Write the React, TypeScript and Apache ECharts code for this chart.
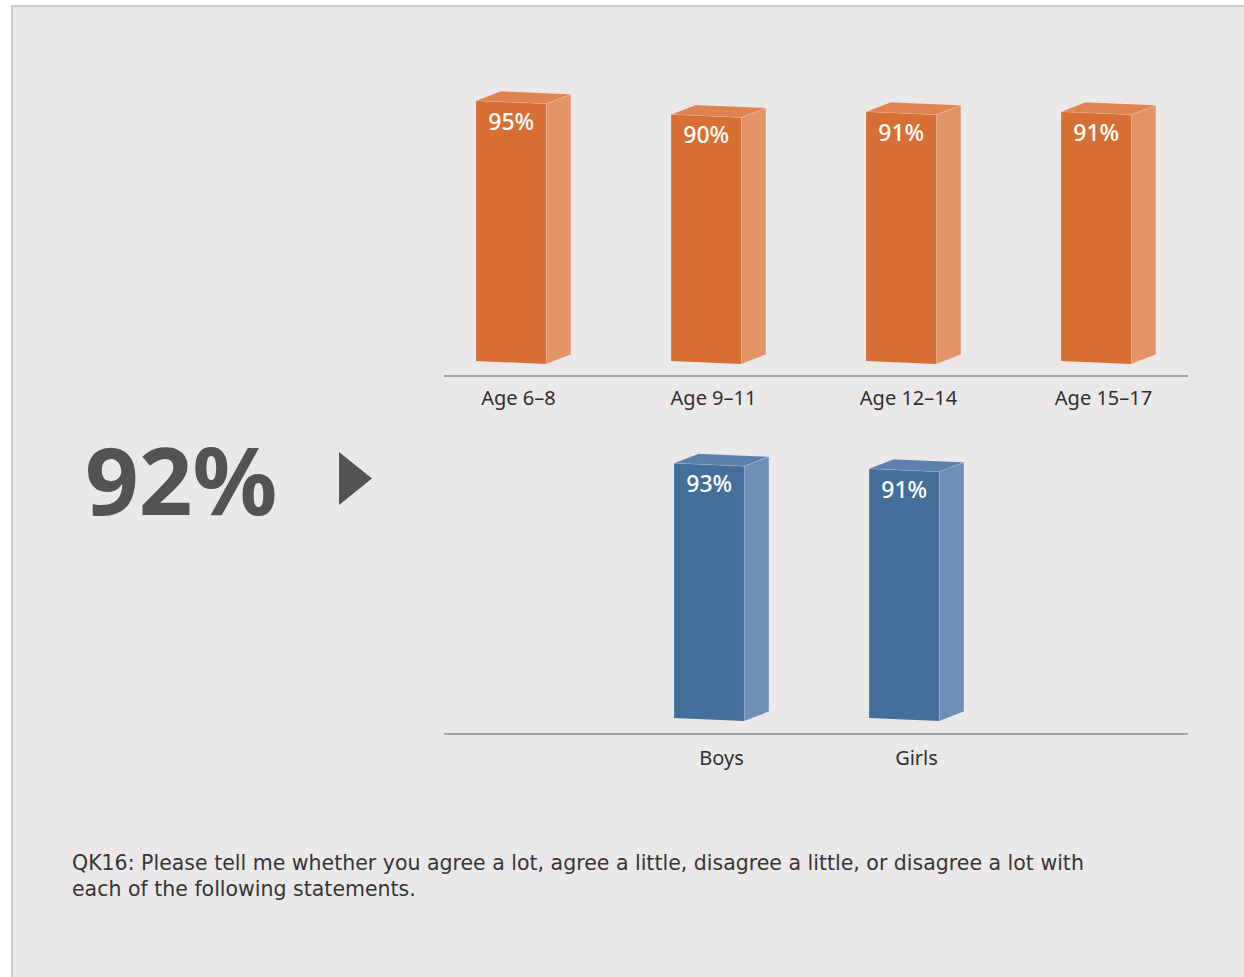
import React, { useEffect, useRef } from "react";
import * as echarts from "echarts";

const ageCategories = ["Age 6–8", "Age 9–11", "Age 12–14", "Age 15–17"];
const ageValues = [95, 90, 91, 91];
const genderCategories = ["Boys", "Girls"];
const genderValues = [93, 91];
const headline = "92%";
const footnoteLines = [
  "QK16: Please tell me whether you agree a lot, agree a little, disagree a little, or disagree a lot with",
  "each of the following statements.",
];

const FONT = '"Noto Sans", "Open Sans", sans-serif';
const WIDE_FONT = '"DejaVu Sans", "Noto Sans", sans-serif';

function makeRenderer(front: string, side: string, top: string) {
  return (params: any, api: any) => {
    const cat = api.value(0);
    const val = api.value(1);
    const pTop = api.coord([cat, val]);
    const pBase = api.coord([cat, 0]);
    const band = api.size([1, 0])[0];
    const fw = band * 0.36;
    const depth = band * 0.126;
    const rise = 9.5;
    const slope = 3;
    const x0 = pTop[0] - (fw + depth) / 2;
    const x1 = x0 + fw;
    const x2 = x1 + depth;
    const yT = pTop[1];
    const yB = pBase[1];
    return {
      type: "group",
      children: [
        {
          type: "polygon",
          shape: { points: [[x0, yT], [x1, yT + slope], [x1, yB + slope], [x0, yB]] },
          style: { fill: front },
        },
        {
          type: "polygon",
          shape: { points: [[x1, yT + slope], [x2, yT + slope - rise], [x2, yB + slope - rise], [x1, yB + slope]] },
          style: { fill: side, stroke: "rgba(255,255,255,0.25)", lineWidth: 0.6 },
        },
        {
          type: "polygon",
          shape: { points: [[x0, yT], [x0 + depth, yT - rise], [x2, yT + slope - rise], [x1, yT + slope]] },
          style: { fill: top, stroke: "rgba(255,255,255,0.3)", lineWidth: 0.6 },
        },
        {
          type: "text",
          x: x0 + fw / 2,
          y: yT + 20,
          style: {
            text: val + "%",
            fill: "#ffffff",
            fontSize: 23,
            fontWeight: 500,
            fontFamily: FONT,
            align: "center",
            verticalAlign: "middle",
          },
        },
      ],
    };
  };
}

export default function App() {
  const ref = useRef<HTMLDivElement>(null);
  useEffect(() => {
    document.body.style.margin = "0";
    const chart = echarts.init(ref.current!, undefined, { renderer: "svg" });
    const axisLabel = (margin: number, padding: number[]) => ({
      color: "#2f2f2f",
      fontSize: 20,
      fontFamily: FONT,
      margin,
      padding,
    });
    chart.setOption({
      animation: false,
      backgroundColor: "#ffffff",
      grid: [
        { left: 426, width: 780, top: 87, height: 274 },
        { left: 624, width: 390, top: 444, height: 274 },
      ],
      xAxis: [
        {
          type: "category",
          gridIndex: 0,
          data: ageCategories,
          axisLine: { show: false },
          axisTick: { show: false },
          axisLabel: axisLabel(26, [0, 10, 0, 0]),
        },
        {
          type: "category",
          gridIndex: 1,
          data: genderCategories,
          axisLine: { show: false },
          axisTick: { show: false },
          axisLabel: axisLabel(29, [0, 0, 0, 0]),
        },
      ],
      yAxis: [
        { type: "value", gridIndex: 0, min: 0, max: 100, show: false },
        { type: "value", gridIndex: 1, min: 0, max: 100, show: false },
      ],
      graphic: [
        {
          type: "rect",
          z: -10,
          shape: { x: 12, y: 6, width: 1240, height: 980 },
          style: { fill: "#ebe8e9", stroke: "#d0cccd", lineWidth: 2 },
        },
        {
          type: "line",
          shape: { x1: 444, y1: 376, x2: 1188, y2: 376 },
          style: { stroke: "#8e8e8e", lineWidth: 1.5 },
        },
        {
          type: "line",
          shape: { x1: 444, y1: 734, x2: 1188, y2: 734 },
          style: { stroke: "#8e8e8e", lineWidth: 1.5 },
        },
        {
          type: "text",
          x: 85,
          y: 479,
          style: {
            text: headline,
            fill: "#555352",
            fontSize: 94,
            fontWeight: "bold",
            fontFamily: FONT,
            align: "left",
            verticalAlign: "middle",
          },
        },
        {
          type: "polygon",
          shape: { points: [[339, 452], [372, 478.5], [339, 505]] },
          style: { fill: "#555352" },
        },
        ...footnoteLines.map((t, i) => ({
          type: "text",
          x: 72,
          y: 863 + i * 26,
          style: {
            text: t,
            fill: "#363636",
            fontSize: 20.5,
            fontFamily: WIDE_FONT,
            align: "left",
            verticalAlign: "middle",
          },
        })),
      ],
      series: [
        {
          type: "custom",
          xAxisIndex: 0,
          yAxisIndex: 0,
          renderItem: makeRenderer("#d76f34", "#e29468", "#df8350"),
          data: ageValues.map((v, i) => [i, v]),
          encode: { x: 0, y: 1 },
        },
        {
          type: "custom",
          xAxisIndex: 1,
          yAxisIndex: 1,
          renderItem: makeRenderer("#446f9b", "#6d8eb6", "#5b80aa"),
          data: genderValues.map((v, i) => [i, v]),
          encode: { x: 0, y: 1 },
        },
      ],
    });
    return () => chart.dispose();
  }, []);
  return <div ref={ref} style={{ width: 1244, height: 977 }} />;
}
